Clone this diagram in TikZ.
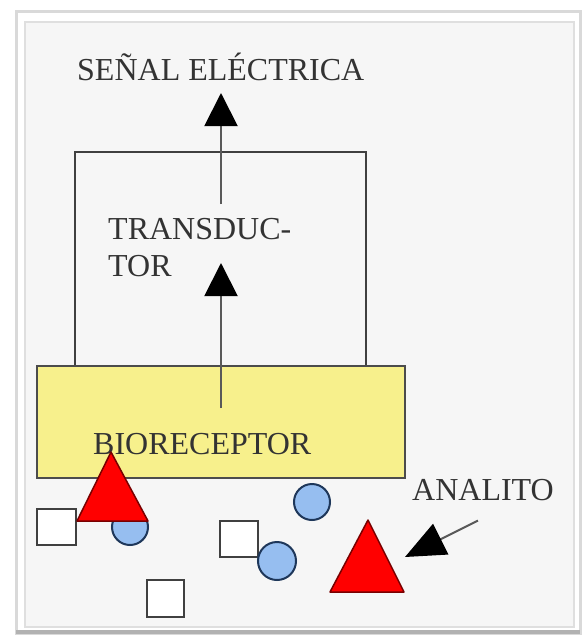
\documentclass[tikz,border=0pt]{standalone}
\usepackage{fontspec}
\setmainfont{Liberation Serif}
\usetikzlibrary{arrows.meta,positioning}

\definecolor{bioyellow}{RGB}{247,240,140}
\definecolor{molblue}{RGB}{150,190,240}
\definecolor{molnavy}{RGB}{30,55,90}
\definecolor{molred}{RGB}{255,0,0}
\definecolor{molredline}{RGB}{120,0,0}
\definecolor{panelgray}{RGB}{246,246,246}

\begin{document}
\begin{tikzpicture}[x=1pt, y=-1pt,
  lbl/.style={inner sep=0pt, text=black!80, font=\fontsize{32}{37}\selectfont},
  tdbox/.style={draw=black!75, line width=1.6pt, inner sep=0pt},
  biobox/.style={draw=black!70, fill=bioyellow, line width=1.6pt, inner sep=0pt},
  sigarrow/.style={draw=black!65, line width=2pt, -{Triangle[length=33pt,width=33pt,color=black]}},
  molsq/.style={draw=black!75, fill=white, line width=1.5pt, minimum size=37pt, inner sep=0pt},
  molcirc/.style={circle, draw=molnavy, fill=molblue, line width=2pt, inner sep=0pt},
  moltri/.style={draw=molredline, fill=molred, line width=1.5pt, line join=round}]
  \useasboundingbox (0,0) rectangle (584,641);
  \fill[white] (0,0) rectangle (584,641);
  \draw[gray!30, line width=3pt] (16,11) rectangle (580,633);
  \draw[gray!60, line width=4pt] (16,632) -- (580,632);
  \filldraw[fill=panelgray, draw=gray!25, line width=1.5pt] (25,22) rectangle (574,627);

  \node[tdbox, minimum width=291pt, minimum height=214pt] (transductor) at (220.5,259) {};
  \node[biobox, minimum width=368pt, minimum height=112pt] (bioreceptor) at (221,422) {};

  \node[lbl, anchor=base west] (senal) at (77,80) {SEÑAL ELÉCTRICA};
  \node[lbl, anchor=north west, align=left] (tdlabel) at (108,218) {TRANSDUC-\\TOR};
  \node[lbl, anchor=base west] (biolabel) at (93,454) {BIORECEPTOR};
  \node[lbl, anchor=base west] (analito) at (412,500) {ANALITO};

  \coordinate (tdout) at (221,204);
  \coordinate (senalin) at (221,93);
  \coordinate (bioout) at (221,408);
  \coordinate (tdin) at (221,263);
  \draw[sigarrow] (tdout) -- (senalin);
  \draw[sigarrow] (bioout) -- (tdin);

  \node[molsq, minimum width=39pt, minimum height=36pt] (sq1) at (56.5,527) {};
  \node[molsq, minimum width=38pt, minimum height=36pt] (sq2) at (239,539) {};
  \node[molsq] (sq3) at (165.5,598.5) {};

  \node[molcirc, minimum size=36pt] (c1) at (130,527) {};
  \node[molcirc, minimum size=36pt] (c2) at (312,502) {};
  \node[molcirc, minimum size=38pt] (c3) at (277,561) {};

  \draw[moltri] (111,452) -- (148,521) -- (77,521) -- cycle;
  \draw[moltri] (368,520) -- (404,592) -- (330,592) -- cycle;

  \coordinate (tri2) at (405,557);
  \draw[draw=black!65, line width=2pt, -{Triangle[length=40pt,width=34pt,color=black]}]
    ([xshift=-5pt,yshift=-20pt]analito.south) -- (tri2);
\end{tikzpicture}
\end{document}
